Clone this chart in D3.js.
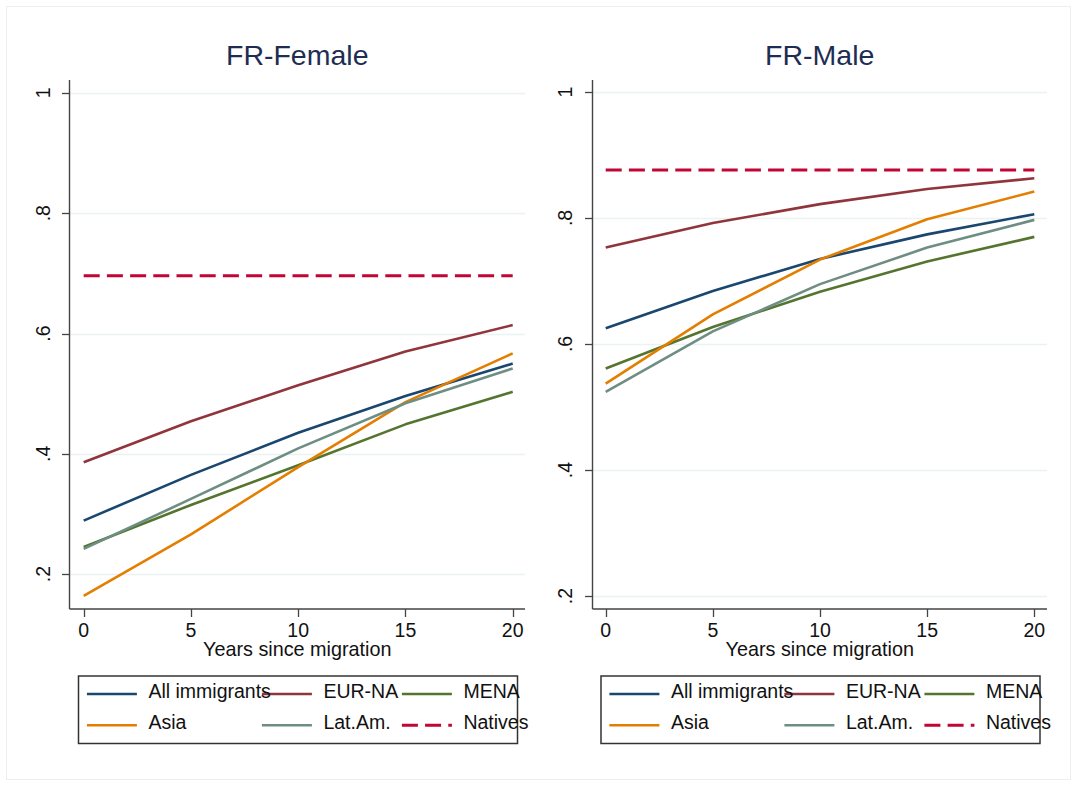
<!DOCTYPE html>
<html><head><meta charset="utf-8">
<script src="https://cdn.jsdelivr.net/npm/d3@7"></script>
<style>body{margin:0;background:#fff}svg{display:block;font-family:"Liberation Sans",Arial,sans-serif}</style>
</head><body><svg id="c" width="1077" height="785"></svg>
<script>
const years = [0, 5, 10, 15, 20];
const seriesNames = ["All immigrants", "EUR-NA", "MENA", "Asia", "Lat.Am.", "Natives"];
const seriesColors = ["#1a476f", "#90353b", "#55752f", "#e37e00", "#6e8e84", "#c10534"];
const panelTitles = ["FR-Female", "FR-Male"];
const yTicks = [0.2, 0.4, 0.6, 0.8, 1];
const yTickLabels = [".2", ".4", ".6", ".8", "1"];
const xTicks = [0, 5, 10, 15, 20];
const xLabel = "Years since migration";

// Female
const femAll    = [0.289, 0.365, 0.435, 0.496, 0.550];
const femEUR    = [0.386, 0.454, 0.514, 0.570, 0.614];
const femMENA   = [0.245, 0.315, 0.381, 0.449, 0.503];
const femAsia   = [0.164, 0.266, 0.378, 0.486, 0.567];
const femLatAm  = [0.242, 0.325, 0.409, 0.484, 0.542];
const femNative = [0.696, 0.696, 0.696, 0.696, 0.696];
// Male
const malAll    = [0.625, 0.684, 0.735, 0.774, 0.806];
const malEUR    = [0.753, 0.792, 0.822, 0.846, 0.863];
const malMENA   = [0.561, 0.627, 0.683, 0.731, 0.770];
const malAsia   = [0.537, 0.647, 0.734, 0.798, 0.842];
const malLatAm  = [0.524, 0.620, 0.695, 0.753, 0.797];
const malNative = [0.876, 0.876, 0.876, 0.876, 0.876];

const panelData = [
  [femAll, femEUR, femMENA, femAsia, femLatAm, femNative],
  [malAll, malEUR, malMENA, malAsia, malLatAm, malNative]
];

const svg = d3.select("#c");
svg.append("rect").attr("x", 6.5).attr("y", 6.5).attr("width", 1064).attr("height", 773)
  .attr("fill", "none").attr("stroke", "#eaf0f2").attr("stroke-width", 1);

const layouts = [
  {left: 69.5, right: 525, top: 80, bottom: 609, x0: 83.7, x20: 512.7, yDom: [0.142, 1.0215], labX: 50, legL: 78.5},
  {left: 592.5, right: 1047, top: 80, bottom: 609, x0: 605.7, x20: 1034.3, yDom: [0.1794, 1.019], labX: 572, legL: 601}
];

layouts.forEach((L, pi) => {
  const g = svg.append("g");
  const x = d3.scaleLinear().domain([0, 20]).range([L.x0, L.x20]);
  const y = d3.scaleLinear().domain(L.yDom).range([L.bottom, L.top]);
  const cx = (L.left + L.right) / 2;

  // title
  g.append("text").attr("x", cx).attr("y", 65).attr("text-anchor", "middle")
    .attr("font-size", 28.5).attr("fill", "#1e2d53").text(panelTitles[pi]);

  // gridlines
  g.selectAll(".grid").data(yTicks).join("line")
    .attr("x1", L.left).attr("x2", L.right)
    .attr("y1", d => Math.round(y(d)) + 0.5).attr("y2", d => Math.round(y(d)) + 0.5)
    .attr("stroke", "#eaf2f3").attr("stroke-width", 1.5);

  // series lines
  const line = d3.line().x((d, i) => x(years[i])).y(d => y(d));
  panelData[pi].forEach((vals, si) => {
    const p = g.append("path").datum(vals).attr("d", line).attr("fill", "none")
      .attr("stroke", seriesColors[si]).attr("stroke-width", 2.6).attr("stroke-linejoin", "round");
    if (seriesNames[si] === "Natives") p.attr("stroke-dasharray", "16,7.2").attr("stroke-width", 3);
  });

  // axes
  g.append("line").attr("x1", L.left).attr("x2", L.left).attr("y1", L.top).attr("y2", L.bottom)
    .attr("stroke", "#444").attr("stroke-width", 1.4);
  g.append("line").attr("x1", L.left).attr("x2", L.right).attr("y1", L.bottom).attr("y2", L.bottom)
    .attr("stroke", "#444").attr("stroke-width", 1.4);

  // y ticks
  yTicks.forEach((t, i) => {
    const yy = Math.round(y(t)) + 0.5;
    g.append("line").attr("x1", L.left - 7.5).attr("x2", L.left).attr("y1", yy).attr("y2", yy)
      .attr("stroke", "#444").attr("stroke-width", 1.3);
    g.append("text").attr("transform", `translate(${L.labX},${y(t)}) rotate(-90)`)
      .attr("text-anchor", "middle").attr("font-size", 19.5).attr("fill", "#111").text(yTickLabels[i]);
  });
  // x ticks
  xTicks.forEach(t => {
    const xx = Math.round(x(t)) + 0.5;
    g.append("line").attr("x1", xx).attr("x2", xx).attr("y1", L.bottom).attr("y2", L.bottom + 8)
      .attr("stroke", "#444").attr("stroke-width", 1.3);
    g.append("text").attr("x", x(t)).attr("y", 636.5).attr("text-anchor", "middle")
      .attr("font-size", 19.5).attr("fill", "#111").text(t);
  });
  g.append("text").attr("x", cx).attr("y", 656).attr("text-anchor", "middle")
    .attr("font-size", 19.8).attr("fill", "#111").text(xLabel);

  // legend
  const lg = g.append("g").attr("transform", `translate(${L.legL},676)`);
  lg.append("rect").attr("x", 0).attr("y", 0).attr("width", 439).attr("height", 67.5)
    .attr("fill", "#fff").attr("stroke", "#333").attr("stroke-width", 1.5);
  const colOff = [8.4, 183.4, 323.4];
  const rowY = [18, 49.2];
  seriesNames.forEach((n, si) => {
    const c = si % 3, r = Math.floor(si / 3);
    const lx = colOff[c];
    const ll = lg.append("line").attr("x1", lx).attr("x2", lx + 50).attr("y1", rowY[r]).attr("y2", rowY[r])
      .attr("stroke", seriesColors[si]).attr("stroke-width", 2.6);
    if (n === "Natives") ll.attr("stroke-dasharray", "16,7.2").attr("stroke-width", 3);
  });
  seriesNames.forEach((n, si) => {
    const c = si % 3, r = Math.floor(si / 3);
    lg.append("text").attr("x", colOff[c] + 61.5).attr("y", rowY[r] + 3.6)
      .attr("font-size", 19.5).attr("fill", "#111").text(n);
  });
});
</script></body></html>
